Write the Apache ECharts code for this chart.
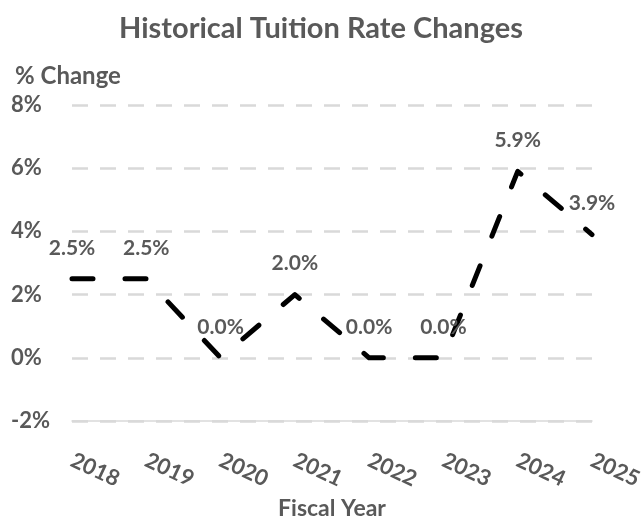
<!DOCTYPE html>
<html>
<head>
<meta charset="utf-8">
<script src="https://cdn.jsdelivr.net/npm/echarts@6/dist/echarts.min.js"></script>
<style>
  html, body { margin: 0; padding: 0; background: #fff; }
  #chart { width: 642px; height: 518px; }
</style>
</head>
<body>
<div id="chart"></div>
<script>
'use strict';

// fiscal years on the x axis
var years = ['2018', '2019', '2020', '2021', '2022', '2023', '2024', '2025'];

// tuition rate change, percent
var rateChange = [2.5, 2.5, 0.0, 2.0, 0.0, 0.0, 5.9, 3.9];

var textGrey = '#595959';
var fontName = 'Lato';

var chart = echarts.init(document.getElementById('chart'), null, { renderer: 'canvas' });

chart.setOption({
    animation: false,
    textStyle: { fontFamily: fontName },
    title: [
        {
            text: 'Historical Tuition Rate Changes',
            left: 'center',
            top: 9,
            textStyle: { color: textGrey, fontSize: 29, fontWeight: 'bold', fontFamily: fontName }
        },
        {
            text: '% Change',
            left: 10,
            top: 59,
            textStyle: { color: textGrey, fontSize: 24, fontWeight: 'bold', fontFamily: fontName }
        }
    ],
    grid: { left: 72, right: 50, top: 105, bottom: 97, outerBoundsMode: 'none', containLabel: false },
    xAxis: {
        type: 'category',
        data: years,
        boundaryGap: false,
        name: 'Fiscal Year',
        nameLocation: 'middle',
        nameGap: 75,
        nameTextStyle: { color: textGrey, fontSize: 23, fontWeight: 'bold', fontFamily: fontName },
        axisLine: { onZero: false, lineStyle: { color: '#d9d9d9', width: 1.5 } },
        axisTick: { show: false },
        axisLabel: {
            rotate: -25,
            margin: 38,
            color: textGrey,
            fontSize: 22,
            fontWeight: 'bold',
            fontFamily: fontName
        }
    },
    yAxis: {
        type: 'value',
        min: -2,
        max: 8,
        interval: 2,
        axisLine: { show: false },
        axisTick: { show: false },
        axisLabel: {
            align: 'left',
            margin: 61,
            color: textGrey,
            fontSize: 22,
            fontWeight: 'bold',
            fontFamily: fontName,
            formatter: function (v) { return v + '%'; }
        },
        splitLine: {
            lineStyle: { color: '#d9d9d9', width: 2.5, type: [16, 12] }
        }
    },
    series: [{
        type: 'line',
        data: rateChange,
        symbol: 'circle',
        symbolSize: 1,
        showSymbol: true,
        itemStyle: { color: 'rgba(0,0,0,0)' },
        lineStyle: { color: '#000', width: 5, type: [21, 32], cap: 'round', join: 'round' },
        label: {
            show: true,
            position: 'top',
            distance: 20,
            color: textGrey,
            fontSize: 21,
            fontWeight: 'bold',
            fontFamily: fontName,
            formatter: function (p) { return p.value.toFixed(1) + '%'; }
        }
    }]
});
</script>
</body>
</html>
